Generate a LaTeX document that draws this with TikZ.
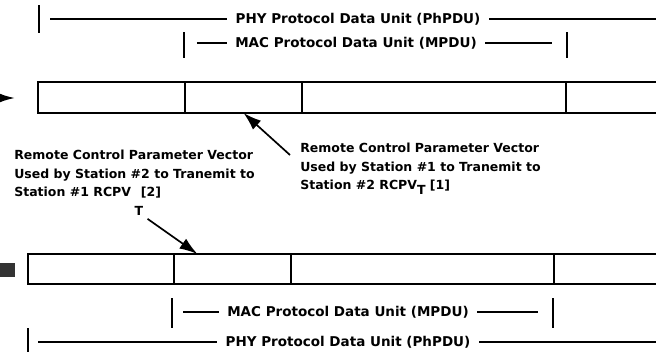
\documentclass[tikz,border=0pt]{standalone}
\usepackage{fontspec}
\setmainfont{DejaVu Sans}
\usetikzlibrary{arrows.meta,calc}

\begin{document}
\begin{tikzpicture}[x=0.025cm, y=-0.025cm]
    % Define styles
    \tikzstyle{cell} = [draw, line width=1pt, inner sep=0pt, outer sep=0pt, anchor=north west, minimum height=0.775cm]
    \tikzstyle{unitlabel} = [font=\fontsize{9.6}{11}\selectfont\bfseries, inner xsep=6pt, inner ysep=0pt]
    \tikzstyle{dimline} = [line width=0.9pt]
    \tikzstyle{note} = [font=\fontsize{8.9}{13}\selectfont\bfseries, align=left, inner sep=0pt, anchor=north west]
    \tikzstyle{pointer} = [-{Latex[length=0.45cm, width=0.3cm]}, line width=1.2pt]

    \useasboundingbox (0,0) rectangle (656,351);
    \clip (0,0) rectangle (656,351);

    % Station #1 frame
    \node[cell, minimum width=3.675cm] (t1) at (38,82) {};
    \node[cell, minimum width=2.925cm] (t2) at (t1.north east) {};
    \node[cell, minimum width=6.6cm] (t3) at (t2.north east) {};
    \node[cell, minimum width=4cm] (t4) at (t3.north east) {};

    % Station #2 frame
    \node[cell, minimum width=3.65cm, minimum height=0.75cm] (b1) at (28,254) {};
    \node[cell, minimum width=2.925cm, minimum height=0.75cm] (b2) at (b1.north east) {};
    \node[cell, minimum width=6.575cm, minimum height=0.75cm] (b3) at (b2.north east) {};
    \node[cell, minimum width=4cm, minimum height=0.75cm] (b4) at (b3.north east) {};

    % Frame entries on the left
    \coordinate (feedTop) at (-30,98);
    \coordinate (feedTopEnd) at (15,98);
    \draw[-{Latex[length=0.38cm, width=0.22cm]}, line width=1.2pt] (feedTop) -- (feedTopEnd);
    \node[fill=black!80, inner sep=0pt, minimum width=0.39cm, minimum height=0.35cm, anchor=north west] (feedBot) at (-1,263) {};

    % PhPDU / MPDU spans above the top frame
    \node[unitlabel] (phyTop) at (358,19) {PHY Protocol Data Unit (PhPDU)};
    \coordinate (phyTopL) at (39,19);
    \coordinate (phyTopR) at (700,19);
    \draw[dimline] (phyTopL) ++(0,-14) -- ++(0,28);
    \draw[dimline] ([xshift=0.28cm]phyTopL) -- (phyTop.west);
    \draw[dimline] (phyTop.east) -- (phyTopR);

    \node[unitlabel] (macTop) at (356,43) {MAC Protocol Data Unit (MPDU)};
    \coordinate (macTopL) at (184,45);
    \coordinate (macTopR) at (567,45);
    \draw[dimline] (macTopL) ++(0,-13) -- ++(0,26);
    \draw[dimline] (macTopR) ++(0,-13) -- ++(0,26);
    \draw[dimline] ([xshift=0.32cm]macTopL |- macTop) -- (macTop.west);
    \draw[dimline] (macTop.east) -- ([xshift=-0.37cm]macTopR |- macTop);

    % MPDU / PhPDU spans below the bottom frame
    \node[unitlabel] (macBot) at (348,312) {MAC Protocol Data Unit (MPDU)};
    \coordinate (macBotL) at (172,313);
    \coordinate (macBotR) at (553,313);
    \draw[dimline] (macBotL) ++(0,-15) -- ++(0,30);
    \draw[dimline] (macBotR) ++(0,-15) -- ++(0,30);
    \draw[dimline] ([xshift=0.28cm]macBotL |- macBot) -- (macBot.west);
    \draw[dimline] (macBot.east) -- ([xshift=-0.37cm]macBotR |- macBot);

    \node[unitlabel] (phyBot) at (348,342) {PHY Protocol Data Unit (PhPDU)};
    \coordinate (phyBotL) at (28,342);
    \coordinate (phyBotR) at (700,342);
    \draw[dimline] (phyBotL) ++(0,-14) -- ++(0,28);
    \draw[dimline] ([xshift=0.25cm]phyBotL) -- (phyBot.west);
    \draw[dimline] (phyBot.east) -- (phyBotR);

    % Remote control parameter vectors
    \node[note] (rcpvOne) at (300,143) {Remote Control Parameter Vector\\Used by Station \#1 to Tranemit to\\Station \#2 RCPV\raisebox{-0.7ex}{T} [1]};
    \node[note] (rcpvTwo) at (14,150) {Remote Control Parameter Vector\\Used by Station \#2 to Tranemit to\\Station \#1 RCPV\hspace{7pt}[2]};
    \node[note, anchor=center] (rcpvTwoSub) at (139,211) {T};

    \draw[pointer] ([shift={(-10,12)}]rcpvOne.north west) -- (t2.south);
    \draw[pointer] ([shift={(4,3)}]rcpvTwoSub.south east) -- ($(b2.north west)!0.2!(b2.north east)$);
\end{tikzpicture}
\end{document}
